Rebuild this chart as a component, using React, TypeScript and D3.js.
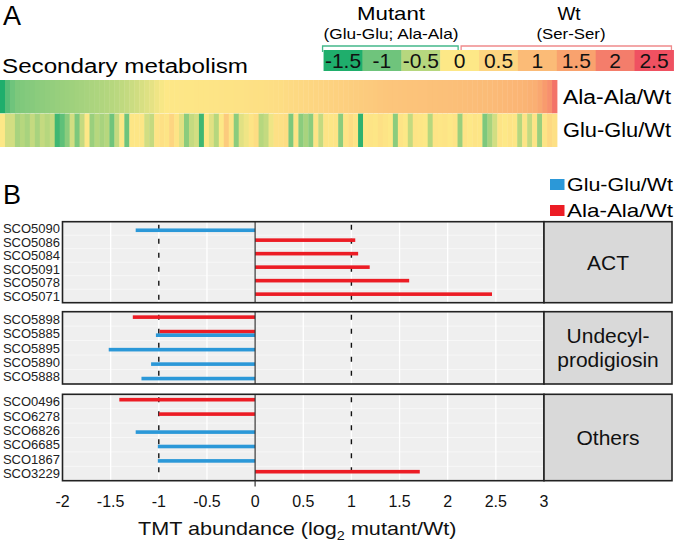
import React from "react";
import * as d3 from "d3";

// ---------- Panel A data ----------
const legendTicks = [-1.5, -1, -0.5, 0, 0.5, 1, 1.5, 2, 2.5];
const legendColors = ["#1fae6c", "#6fc47c", "#b6d77e", "#fde887", "#fdd581", "#fbbb77", "#f9a26e", "#f47d6b", "#ef5161"];
const heatRows = ["Ala-Ala/Wt", "Glu-Glu/Wt"];

const heatAlaAla = [
  -1.6, -1.15, -1.0, -0.9, -0.88, -0.85, -0.83, -0.8, -0.78, -0.76,
  -0.74, -0.72, -0.7, -0.68, -0.66, -0.64, -0.62, -0.6, -0.58, -0.56,
  -0.54, -0.52, -0.5, -0.47, -0.44, -0.4, -0.36, -0.32, -0.27, -0.22,
  -0.17, -0.1, -0.04, 0.0, 0.02, 0.03, 0.04, 0.05, 0.06, 0.07,
  0.08, 0.09, 0.1, 0.11, 0.12, 0.13, 0.14, 0.15, 0.17, 0.19,
  0.2, 0.21, 0.22, 0.24, 0.26, 0.28, 0.3, 0.33, 0.36, 0.39,
  0.42, 0.45, 0.48, 0.5, 0.52, 0.54, 0.56, 0.58, 0.6, 0.62,
  0.64, 0.66, 0.68, 0.7, 0.72, 0.74, 0.76, 0.78, 0.8, 0.81,
  0.82, 0.83, 0.84, 0.85, 0.86, 0.87, 0.88, 0.89, 0.9, 0.91,
  0.92, 0.93, 0.94, 0.95, 0.96, 0.97, 0.98, 0.99, 1.0, 1.02,
  1.04, 1.06, 1.08, 1.1, 1.12, 1.15, 1.2, 1.25, 1.4, 1.6, 1.75, 2.1,
];

const heatGluGlu = [
  0.0, -0.3, -0.3, -0.6, -0.5, -0.6, -0.4, -0.6, -0.4, -0.5,
  -0.4, -1.3, -1.1, -0.8, -0.3, -0.9, -0.4, 0.0, -0.7, -0.5,
  -0.6, -0.5, -1.0, -0.4, 0.0, -1.0, 0.05, 0.05, 0.05, -0.3,
  -0.4, 0.1, 0.2, 0.1, 0.5, 0.1, -0.2, -0.8, -0.4, -0.3,
  -1.3, 0.0, -0.2, -0.5, 0.0, 0.7, 0.1, -0.8, -0.2, -0.1,
  0.1, 0.3, -0.5, -0.4, -0.1, 0.2, 0.2, 0.3, -0.9, 0.1,
  -0.8, -0.6, -0.8, 0.1, -0.4, 0.1, 0.05, 0.1, -0.8, 0.1,
  0.3, 0.1, -1.4, 0.05, 0.1, 0.05, 0.2, 0.1, 0.0, -0.8,
  0.1, 0.0, -0.4, 0.1, 0.05, 0.0, -0.5, 0.1, 0.05, 0.1,
  0.0, 0.1, -0.7, 0.1, 0.0, 0.1, 0.05, -0.9, -0.6, -0.3,
  0.1, 0.0, 0.1, 0.05, -0.5, 0.1, -0.4, 0.1, -0.7, 0.1, 0.4, 0.2,
];

// ---------- Panel B data ----------
const groupNames = ["ACT", "Undecyl-|prodigiosin", "Others"];
const actGenes = ["SCO5090", "SCO5086", "SCO5084", "SCO5091", "SCO5078", "SCO5071"];
const actGluGlu = [-1.24, null, null, null, null, null];
const actAlaAla = [null, 1.04, 1.07, 1.19, 1.6, 2.46];
const redGenes = ["SCO5898", "SCO5885", "SCO5895", "SCO5890", "SCO5888"];
const redGluGlu = [null, -1.03, -1.52, -1.08, -1.18];
const redAlaAla = [-1.27, -0.99, null, null, null];
const otherGenes = ["SCO0496", "SCO6278", "SCO6826", "SCO6685", "SCO1867", "SCO3229"];
const otherGluGlu = [null, null, -1.24, -1.01, -1.01, null];
const otherAlaAla = [-1.41, -1.0, null, null, null, 1.71];
const xTicks = [-2, -1.5, -1, -0.5, 0, 0.5, 1, 1.5, 2, 2.5, 3];
const seriesNames = ["Glu-Glu/Wt", "Ala-Ala/Wt"];

const BLUE = "#2b98d8";
const RED = "#ec1c24";
const FONT = "'Liberation Sans', Arial, Helvetica, sans-serif";

export default function App() {
  const W = 675, H = 542;
  const color = d3.scaleLinear<string>().domain(legendTicks).range(legendColors).interpolate(d3.interpolateRgb).clamp(true);

  // Heatmap
  const nCols = heatAlaAla.length;
  const hx = d3.scaleBand<number>().domain(d3.range(nCols)).range([0, 557]).paddingInner(0);
  const hy = d3.scaleBand<string>().domain(heatRows).range([80, 147]).paddingInner(0.01);
  const heatData = [heatAlaAla, heatGluGlu];

  // Color legend
  const lx = d3.scaleLinear().domain([-1.5, 2.5]).range([343, 654]);
  const step = lx(0.5) - lx(0);

  // Panel B
  const x = d3.scaleLinear().domain([-2, 3]).range([62.5, 544]);
  const panels = [
    { name: groupNames[0], genes: actGenes, gg: actGluGlu, aa: actAlaAla, top: 221.7, bottom: 302.7 },
    { name: groupNames[1], genes: redGenes, gg: redGluGlu, aa: redAlaAla, top: 311.7, bottom: 384 },
    { name: groupNames[2], genes: otherGenes, gg: otherGluGlu, aa: otherAlaAla, top: 394.3, bottom: 480.7 },
  ];
  const barH = 3.6;
  const stripX0 = 544, stripX1 = 672;

  return (
    <div style={{ position: "absolute", left: 0, top: 0 }}>
      <svg width={W} height={H} style={{ display: "block", fontFamily: FONT }}>
        <rect x={0} y={0} width={W} height={H} fill="#fff" />
        {/* ---------- A ---------- */}
        <text x={3} y={25} fontSize={27} fill="#000">A</text>
        <text x={391} y={20} fontSize={19} textAnchor="middle" textLength={68} lengthAdjust="spacingAndGlyphs">Mutant</text>
        <text x={391} y={39} fontSize={15} textAnchor="middle" textLength={135} lengthAdjust="spacingAndGlyphs">(Glu-Glu; Ala-Ala)</text>
        <text x={569} y={20} fontSize={19} textAnchor="middle">Wt</text>
        <text x={571} y={39} fontSize={15} textAnchor="middle" textLength={69} lengthAdjust="spacingAndGlyphs">(Ser-Ser)</text>
        {/* brackets */}
        <path d={`M${lx(-1.75) - 1},52 V46 H${lx(0) - 1.5} V52`} fill="none" stroke="#44b88a" strokeWidth={1.3} />
        <path d={`M${lx(0) + 1.5},52 V46 H${lx(2.75) - 2} V52`} fill="none" stroke="#f08a8c" strokeWidth={1.3} />
        {legendTicks.map((t, i) => (
          <rect key={"lg" + i} x={lx(t) - step / 2} y={50} width={step + 0.5} height={21} fill={legendColors[i]} />
        ))}
        {legendTicks.map((t, i) => (
          <text key={"lt" + i} x={lx(t)} y={68.3} fontSize={21} textAnchor="middle" fill="#111">{t}</text>
        ))}
        <text x={2} y={73} fontSize={20} textLength={246} lengthAdjust="spacingAndGlyphs">Secondary metabolism</text>
        {heatData.map((row, r) =>
          row.map((v, i) => (
            <rect key={`h${r}-${i}`} x={hx(i)!} y={hy(heatRows[r])!} width={hx.bandwidth() + 0.4} height={hy.bandwidth()} fill={color(v)} />
          ))
        )}
        {heatRows.map((lab) => (
          <text key={lab} x={563} y={hy(lab)! + hy.bandwidth() / 2 + 7} fontSize={20} textLength={108} lengthAdjust="spacingAndGlyphs">{lab}</text>
        ))}

        {/* ---------- B ---------- */}
        <text x={3} y={204} fontSize={27} fill="#000">B</text>
        {/* legend */}
        {seriesNames.map((s, i) => (
          <g key={s}>
            <rect x={550} y={179 + i * 26} width={14.5} height={11} fill={i === 0 ? BLUE : RED} />
            <text x={567} y={191 + i * 25.5} fontSize={19} textLength={106} lengthAdjust="spacingAndGlyphs">{s}</text>
          </g>
        ))}

        {panels.map((p, pi) => {
          const y = d3.scaleBand<string>().domain(p.genes).range([p.top, p.bottom]).paddingInner(0).paddingOuter(0);
          const bw = y.bandwidth();
          const lines = p.name.split("|");
          const midY = (p.top + p.bottom) / 2;
          return (
            <g key={"p" + pi}>
              <rect x={x(-2)} y={p.top} width={x(3) - x(-2)} height={p.bottom - p.top} fill="#efefef" />
              {/* horizontal minor grid between rows */}
              {p.genes.slice(1).map((g) => (
                <line key={"hg" + g} x1={x(-2)} x2={x(3)} y1={y(g)!} y2={y(g)!} stroke="#fff" strokeWidth={0.7} opacity={0.8} />
              ))}
              {xTicks.map((t) => (
                <line key={"vg" + t} x1={x(t)} x2={x(t)} y1={p.top} y2={p.bottom} stroke="#fff" strokeWidth={1.3} />
              ))}
              {/* reference lines */}
              {[-1, 1].map((t) => (
                <line key={"d" + t} x1={x(t)} x2={x(t)} y1={p.top + 3} y2={p.bottom} stroke="#111" strokeWidth={1.4} strokeDasharray="5 9" />
              ))}
              {/* bars */}
              {p.genes.map((g, i) => {
                const c = y(g)! + bw / 2;
                const a = p.aa[i];
                const b = p.gg[i];
                return (
                  <g key={"b" + g}>
                    {a != null && (
                      <rect x={Math.min(x(0), x(a))} y={c - barH} width={Math.abs(x(a) - x(0))} height={barH} fill={RED} />
                    )}
                    {b != null && (
                      <rect x={Math.min(x(0), x(b))} y={c} width={Math.abs(x(b) - x(0))} height={barH} fill={BLUE} />
                    )}
                  </g>
                );
              })}
              <line x1={x(0)} x2={x(0)} y1={p.top} y2={p.bottom} stroke="#333" strokeWidth={1.2} />
              <rect x={x(-2)} y={p.top} width={x(3) - x(-2)} height={p.bottom - p.top} fill="none" stroke="#222" strokeWidth={1.6} />
              {/* y labels */}
              {p.genes.map((g) => (
                <text key={"yl" + g} x={60} y={y(g)! + bw / 2 + 4.7} fontSize={13} textAnchor="end" fill="#222">{g}</text>
              ))}
              {/* strip */}
              <rect x={stripX0} y={p.top} width={stripX1 - stripX0} height={p.bottom - p.top} fill="#d9d9d9" stroke="#222" strokeWidth={1.6} />
              {lines.map((ln, li) => (
                <text key={"s" + li} x={(stripX0 + stripX1) / 2} y={midY + 7.5 + (li - (lines.length - 1) / 2) * 24} fontSize={21} textAnchor="middle" fill="#111">{ln}</text>
              ))}
            </g>
          );
        })}
        {/* x axis */}
        <line x1={x(0)} x2={x(0)} y1={480.7} y2={486.5} stroke="#333" strokeWidth={1.2} />
        {xTicks.map((t) => (
          <text key={"xt" + t} x={x(t)} y={506.5} fontSize={16} textAnchor="middle" fill="#111">{t}</text>
        ))}
        <g transform={`translate(${(x(-2) + x(3)) / 2 - 6},535) scale(1.2,1)`}>
          <text x={0} y={0} fontSize={18} textAnchor="middle" fill="#111">
            TMT abundance (log<tspan fontSize={12} dy={5}>2</tspan><tspan dy={-5}> mutant/Wt)</tspan>
          </text>
        </g>
      </svg>
    </div>
  );
}
